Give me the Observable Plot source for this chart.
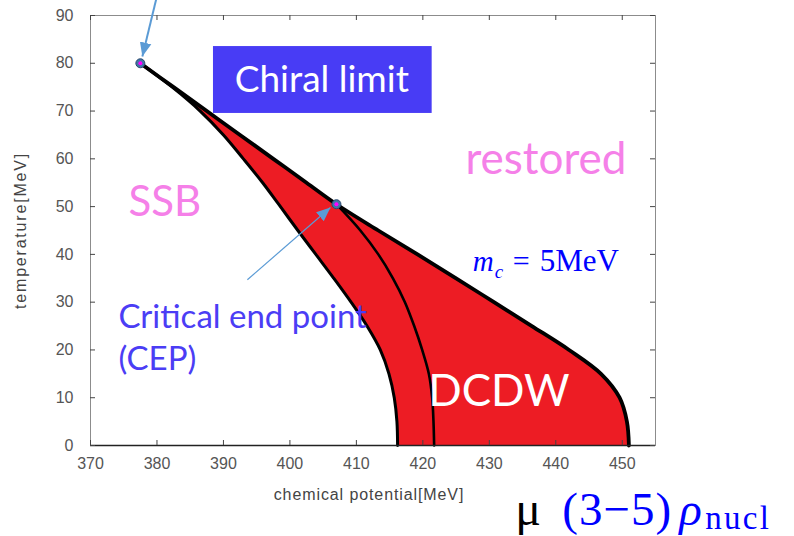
<!DOCTYPE html>
<html><head><meta charset="utf-8">
<script src="https://cdn.jsdelivr.net/npm/d3@7"></script>
<script src="https://cdn.jsdelivr.net/npm/@observablehq/plot@0.6"></script>
<style>body{margin:0;background:#fff;} svg{overflow:visible;}</style>
</head><body><div id="chart"></div>
<script>
// Phase boundaries: chemical potential (MeV) at each temperature (MeV)
const temps    = [0, 5, 10, 15, 20, 25, 30, 35, 40, 45, 50.5, 55, 60, 65, 70, 75, 80];
const muLower  = [416.2, 416.1, 415.7, 414.9, 413.6, 411.6, 409.2, 406.6, 403.9, 401.2, 398.3, 395.9, 393.0, 390.0, 386.5, 382.3, 377.5];
const muUpper  = [451.0, 450.7, 449.6, 446.8, 442.0, 436.4, 430.7, 425.0, 419.2, 413.3, 407.0, 402.5, 397.5, 392.5, 387.5, 382.5, 377.5];
const tempsMid = [0, 5, 10, 15, 20, 25, 30, 35, 40, 45, 50.5];
const muMiddle = [421.7, 421.6, 421.4, 420.9, 419.9, 418.7, 417.3, 415.5, 413.3, 410.6, 407.0];

// Special points: chiral-limit tricritical point and CEP
const pointNames = ["chiral limit point", "CEP"];
const pointMu    = [377.5, 407.0];
const pointT     = [80, 50.5];

// Ticks
const xTicks = [370, 380, 390, 400, 410, 420, 430, 440, 450];
const yTicks = [0, 10, 20, 30, 40, 50, 60, 70, 80, 90];

// Annotation arrows (data coordinates: start -> tip)
const arrowFromMu = [379.9, 393.6];
const arrowFromT  = [93.5, 34.7];
const arrowToMu   = [377.8, 406.1];
const arrowToT    = [81.4, 49.8];

const boundary = temps.map((T, i) => ({T, lower: muLower[i], upper: muUpper[i]}));
const middle = tempsMid.map((T, i) => ({T, mu: muMiddle[i]}));
const points = pointNames.map((name, i) => ({name, mu: pointMu[i], T: pointT[i]}));
const arrows = arrowFromMu.map((m, i) => ({x1: m, y1: arrowFromT[i], x2: arrowToMu[i], y2: arrowToT[i]}));

const W = 794, H = 536, mL = 90, mR = 139, mT = 15, mB = 91;
const innerW = W - mL - mR, innerH = H - mT - mB;

const one = (mu, T) => [{mu, T}];
const txt = (mu, T, text, o) => Plot.text(one(mu, T), {x: "mu", y: "T", text: () => text, textAnchor: "start", lineAnchor: "bottom", ...o});
const calibri = "Lato, 'Open Sans', sans-serif";
const serif = "'Liberation Serif', 'DejaVu Serif', serif";

const chart = Plot.plot({
  width: W, height: H,
  marginLeft: mL, marginRight: mR, marginTop: mT, marginBottom: mB,
  x: {domain: [370, 455]},
  y: {domain: [0, 90]},
  style: {background: "#fff", fontFamily: "'Liberation Sans', Arial, sans-serif", overflow: "visible"},
  marks: [
    Plot.areaX(boundary, {y: "T", x1: "lower", x2: "upper", fill: "#ed1c24", curve: "catmull-rom"}),
    Plot.line(boundary, {x: "upper", y: "T", stroke: "#000", strokeWidth: 3.8, curve: "catmull-rom"}),
    Plot.line(boundary, {x: "lower", y: "T", stroke: "#000", strokeWidth: 3, curve: "catmull-rom"}),
    Plot.line(middle, {x: "mu", y: "T", stroke: "#000", strokeWidth: 2.6, curve: "catmull-rom"}),

    Plot.frame({stroke: "#8c8c8c"}),
    Plot.ruleY([0], {stroke: "#222", strokeWidth: 1.5}),
    Plot.tickX(xTicks, {x: d => d, insetTop: innerH - 5, stroke: "#444"}),
    Plot.tickX(xTicks, {x: d => d, insetBottom: innerH - 5, stroke: "#444"}),
    Plot.tickY(yTicks, {y: d => d, insetRight: innerW - 5, stroke: "#444"}),
    Plot.tickY(yTicks, {y: d => d, insetLeft: innerW - 5, stroke: "#444"}),
    Plot.axisX(xTicks, {tickSize: 0, tickPadding: 12, fontSize: 16, fill: "#555", label: null}),
    Plot.axisY(yTicks, {tickSize: 0, tickPadding: 17, fontSize: 16, fill: "#555", label: null}),
    Plot.text(["chemical potential[MeV]"], {frameAnchor: "bottom", textAnchor: "middle", dx: -4, dy: 54, fontSize: 16, fill: "#444", text: d => d}),
    Plot.text(["temperature[MeV]"], {frameAnchor: "left", textAnchor: "middle", dx: -70, rotate: -90, fontSize: 16, fill: "#444", text: d => d}),

    // Chiral limit box
    Plot.rect(one(0, 0), {x1: () => 388.5, x2: () => 421.4, y1: () => 69.5, y2: () => 83.5, fill: "#483cf5"}),
    txt(391.7, 73.9, "Chiral limit", {fill: "#fff", fontSize: 37, fontFamily: calibri}),

    // arrows
    Plot.link(arrows.slice(0, 1), {x1: "x1", y1: "y1", x2: "x2", y2: "y2", stroke: "#5b9bd5", strokeWidth: 2, markerEnd: "arrow"}),
    Plot.link(arrows.slice(1), {x1: "x1", y1: "y1", x2: "x2", y2: "y2", stroke: "#5b9bd5", strokeWidth: 1.2, markerEnd: "arrow"}),

    // special points
    Plot.dot(points, {x: "mu", y: "T", r: 4.5, fill: "#4274a8", stroke: "#2b4a6e", strokeWidth: 1}),
    Plot.dot(points, {x: "mu", y: "T", r: 2, fill: "#ff00ff"}),

    // region labels
    txt(375.7, 48.1, "SSB", {fill: "#f580e8", fontSize: 42, fontFamily: calibri}),
    txt(426.4, 56.9, "restored", {fill: "#f580e8", fontSize: 44, fontFamily: calibri}),
    txt(374.2, 24.5, "Critical end point", {fill: "#4b3df5", fontSize: 33, fontFamily: calibri}),
    txt(374.2, 15.7, "(CEP)", {fill: "#4b3df5", fontSize: 33, fontFamily: calibri}),
    txt(420.8, 8.2, "DCDW", {fill: "#fff", fontSize: 44, fontFamily: calibri}),

    // m_c = 5MeV
    txt(427.5, 36.6, "m", {fill: "#0000ff", fontSize: 29, fontFamily: serif, fontStyle: "italic"}),
    txt(427.5, 36.6, "c", {fill: "#0000ff", fontSize: 19, fontFamily: serif, fontStyle: "italic", dx: 22, dy: 7}),
    txt(427.5, 36.6, "=", {fill: "#0000ff", fontSize: 30, fontFamily: serif, dx: 40}),
    txt(427.5, 36.6, "5MeV", {fill: "#0000ff", fontSize: 31, fontFamily: serif, dx: 67}),

    // μ ~ (3−5) ρ_nucl
    txt(433.6, -16.7, "μ", {fill: "#000", fontSize: 48, fontFamily: serif, dx: 2}),
    txt(433.6, -16.7, "(3−5)", {fill: "#0000ff", fontSize: 47, fontFamily: serif, dx: 49}),
    txt(433.6, -16.7, "ρ", {fill: "#0000ff", fontSize: 47, fontFamily: serif, fontStyle: "italic", dx: 166}),
    txt(433.6, -16.7, "nucl", {fill: "#0000ff", fontSize: 33, fontFamily: serif, dx: 192, dy: 4})
  ]
});

// Letter spacing (the source image is stretched horizontally)
const spacing = {"chemical potential[MeV]": 0.9, "temperature[MeV]": 1.8, "(3−5)": 1.0, "nucl": 2.3};
d3.select(chart).selectAll("text").each(function () {
  const s = spacing[this.textContent];
  if (s != null) this.setAttribute("letter-spacing", s);
});

// Filled arrowheads
d3.select(chart).selectAll("marker").each(function () {
  const m = d3.select(this);
  const c = m.attr("stroke");
  m.attr("viewBox", "-12 -6 12 12").attr("markerUnits", "userSpaceOnUse")
   .attr("markerWidth", 14).attr("markerHeight", 14)
   .attr("refX", 0).attr("refY", 0)
   .attr("fill", c).attr("stroke", "none").attr("stroke-width", null);
  m.select("path").attr("d", "M-12,-5L0,0L-12,5Z");
});

document.getElementById("chart").appendChild(chart);
</script>
</body></html>
